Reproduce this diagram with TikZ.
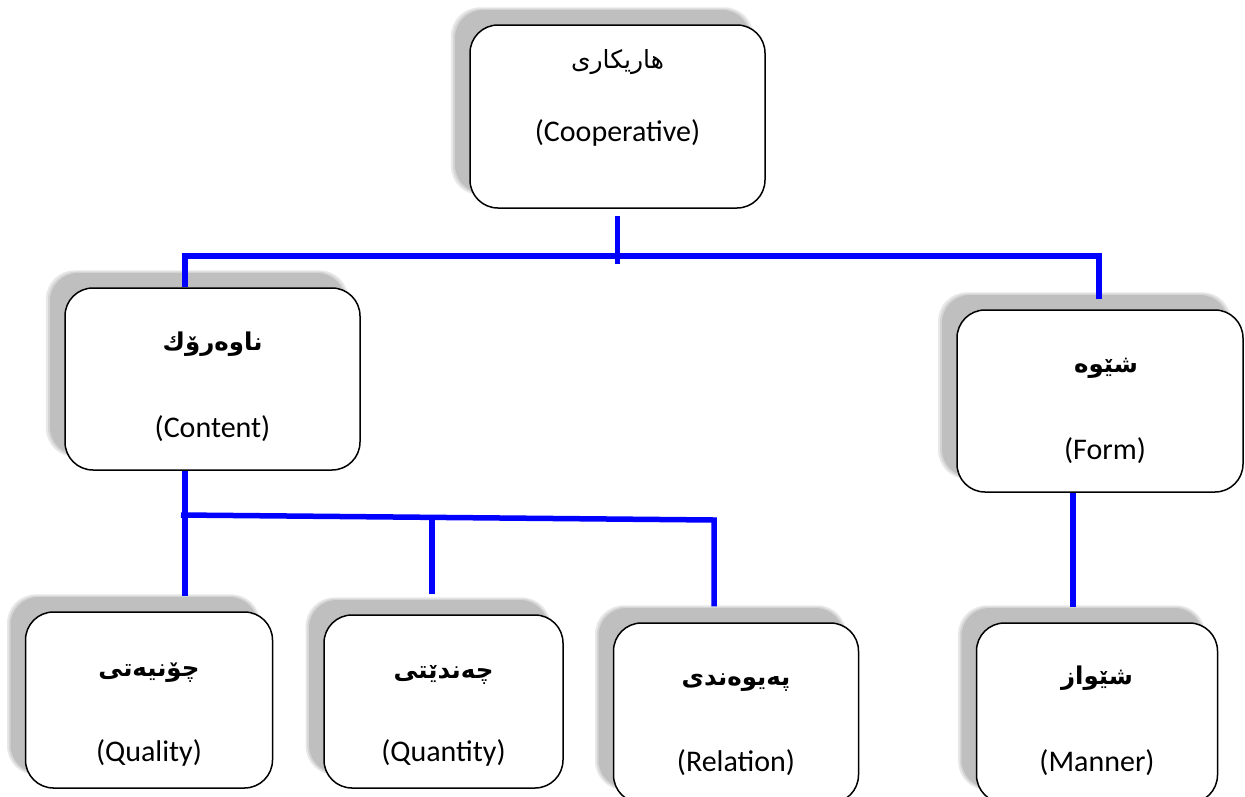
\documentclass[tikz,border=0pt]{standalone}
\usepackage{fontspec}
\setmainfont{Carlito}
\newfontfamily\kufont[Script=Arabic]{DejaVu Sans}
\TeXXeTstate=1
\usetikzlibrary{shadows}
\begin{document}
\begin{tikzpicture}[x=1pt,y=-1pt,
 box/.style={draw=black, line width=1.5pt, fill=white, rounded corners=28pt, inner sep=0pt,
   drop shadow={shadow xshift=-15pt, shadow yshift=15pt, shadow scale=1.025, fill=gray!18, opacity=1},
   drop shadow={shadow xshift=-15pt, shadow yshift=15pt, shadow scale=1.012, fill=gray!34, opacity=1},
   drop shadow={shadow xshift=-15pt, shadow yshift=15pt, fill=gray!50, opacity=1}},
 bl/.style={draw=blue, line width=5.5pt},
 en/.style={font=\fontsize{30}{34}\selectfont, inner sep=0pt},
 ku/.style={font=\kufont\bfseries\fontsize{24.5}{30}\selectfont, inner sep=0pt},
 kur/.style={font=\kufont\fontsize{25}{30}\selectfont, inner sep=0pt}]
\useasboundingbox (0,0) rectangle (1245,796);
\fill[white] (0,0) rectangle (1245,796);
% boxes
\node[box, minimum width=295pt, minimum height=183pt] (coop) at (617.5,116.5) {};
\node[box, minimum width=295pt, minimum height=182pt] (content) at (212.5,379) {};
\node[box, minimum width=286pt, minimum height=182pt] (form) at (1100,401) {};
\node[box, minimum width=247pt, minimum height=176pt] (quality) at (149,700) {};
\node[box, minimum width=239pt, minimum height=173pt] (quantity) at (443.5,701.5) {};
\node[box, minimum width=245pt, minimum height=180pt] (relation) at (736,713) {};
\node[box, minimum width=241pt, minimum height=180pt] (manner) at (1097,713) {};
% texts
\node[kur] (coopA) at ([yshift=-38pt]coop.north) {\beginR هاریکاری\endR};
\node[en] (coopE) at ([yshift=-109pt]coop.north) {(Cooperative)};
\node[ku] (contentA) at ([yshift=-57pt]content.north) {\beginR ناوەرۆك\endR};
\node[en] (contentE) at ([yshift=-141pt]content.north) {(Content)};
\node[ku] (formA) at ([xshift=6pt,yshift=-59pt]form.north) {\beginR شێوە\endR};
\node[en] (formE) at ([xshift=5pt,yshift=-141pt]form.north) {(Form)};
\node[ku] (qualityA) at ([yshift=-61pt]quality.north) {\beginR چۆنیەتی\endR};
\node[en] (qualityE) at ([yshift=-142pt]quality.north) {(Quality)};
\node[ku] (quantityA) at ([yshift=-61pt]quantity.north) {\beginR چەندێتی\endR};
\node[en] (quantityE) at ([yshift=-139pt]quantity.north) {(Quantity)};
\node[ku] (relationA) at ([yshift=-60pt]relation.north) {\beginR پەیوەندی\endR};
\node[en] (relationE) at ([yshift=-140pt]relation.north) {(Relation)};
\node[ku] (mannerA) at ([yshift=-56pt]manner.north) {\beginR شێواز\endR};
\node[en] (mannerE) at ([yshift=-140pt]manner.north) {(Manner)};
% connectors
\coordinate (hL) at (185,256);
\coordinate (hR) at (1099,256);
\coordinate (cL) at (185,515);
\coordinate (cM) at (432,518);
\coordinate (cR) at (714,520);
\coordinate (fM) at (1073,500);
\draw[bl] ([yshift=-7pt]coop.south) -- ([yshift=-55pt]coop.south);
\draw[bl] (content.north -| hL) -- (hL) -- (hR) -- ([yshift=10pt]form.north -| hR);
\draw[bl] (content.south -| cL) -- ([yshift=15pt]quality.north -| cL);
\draw[bl] ([xshift=-4pt]cL) -- (cR) -- ([yshift=16pt]relation.north -| cR);
\draw[bl] (cM) -- ([yshift=20pt]quantity.north -| cM);
\draw[bl] (form.south -| fM) -- ([yshift=15pt]manner.north -| fM);
\end{tikzpicture}
\end{document}
